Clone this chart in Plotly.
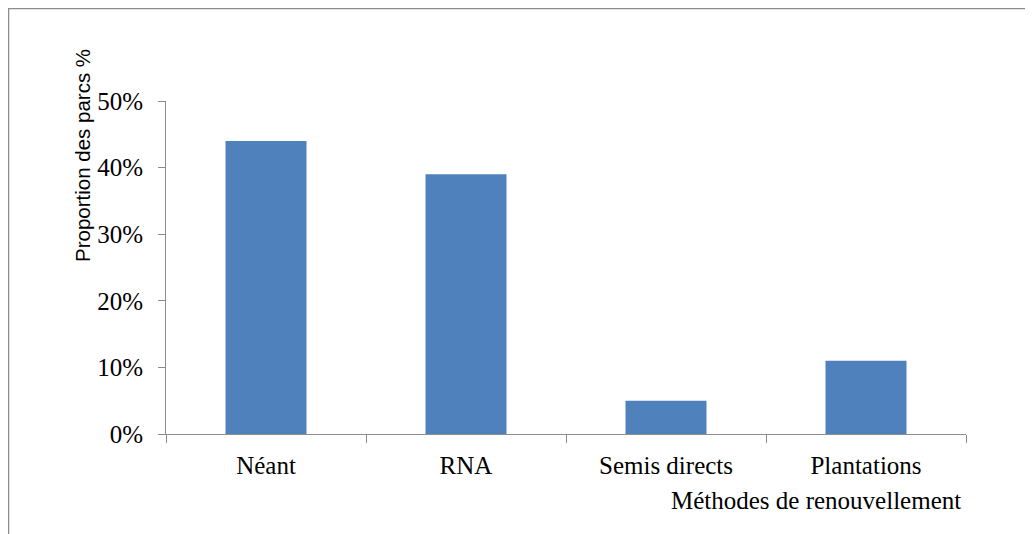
import plotly.graph_objects as go

categories = ["Néant", "RNA", "Semis directs", "Plantations"]
values = [44, 39, 5, 11]
y_ticks = [0, 10, 20, 30, 40, 50]
y_tick_labels = ["0%", "10%", "20%", "30%", "40%", "50%"]

# page has an 8px body margin, so figure coords = reference coords - 8
OFF = 8
L, R, T, B = 166 - OFF, 966 - OFF, 101 - OFF, 434 - OFF
W, H = 1033, 534

def px_x(p):
    return (p - OFF - L) / (R - L)

def px_y(p):
    return (B - (p - OFF)) / (B - T)

fig = go.Figure(go.Bar(x=categories, y=values, marker=dict(color="#4F81BD", line=dict(width=0)),
                       width=0.405))

axis_col = "#8C8C8C"
serif = "Liberation Serif, Times New Roman, serif"

fig.update_layout(
    width=W, height=H,
    margin=dict(l=L, r=W - R, t=T, b=H - B),
    paper_bgcolor="white", plot_bgcolor="white",
    showlegend=False,
    xaxis=dict(showline=True, linecolor=axis_col, linewidth=1, ticks="outside", ticklen=8,
               tickcolor=axis_col, tickson="boundaries", showgrid=False,
               tickfont=dict(family=serif, size=25, color="black"), ticklabelstandoff=9),
    yaxis=dict(range=[0, 50], tickvals=y_ticks, ticktext=y_tick_labels, showline=True,
               linecolor=axis_col, linewidth=1, ticks="outside", ticklen=7, tickcolor=axis_col,
               showgrid=False, zeroline=False,
               tickfont=dict(family=serif, size=25, color="black"), ticklabelstandoff=10),
    shapes=[dict(type="rect", xref="paper", yref="paper",
                 x0=px_x(8.5), x1=px_x(1080), y0=px_y(600), y1=px_y(8.5),
                 line=dict(color="#8C8C8C", width=1.5), layer="below")],
    annotations=[
        dict(text="Proportion des parcs %", xref="paper", yref="paper", x=px_x(82), y=px_y(156),
             textangle=-90, showarrow=False, xanchor="center", yanchor="middle",
             font=dict(family="Liberation Sans, Arial, sans-serif", size=20.5, color="black")),
        dict(text="Méthodes de renouvellement", xref="paper", yref="paper", x=px_x(963), y=px_y(500),
             showarrow=False, xanchor="right", yanchor="middle",
             font=dict(family=serif, size=25, color="black")),
    ],
)

fig.write_html("out.html")
